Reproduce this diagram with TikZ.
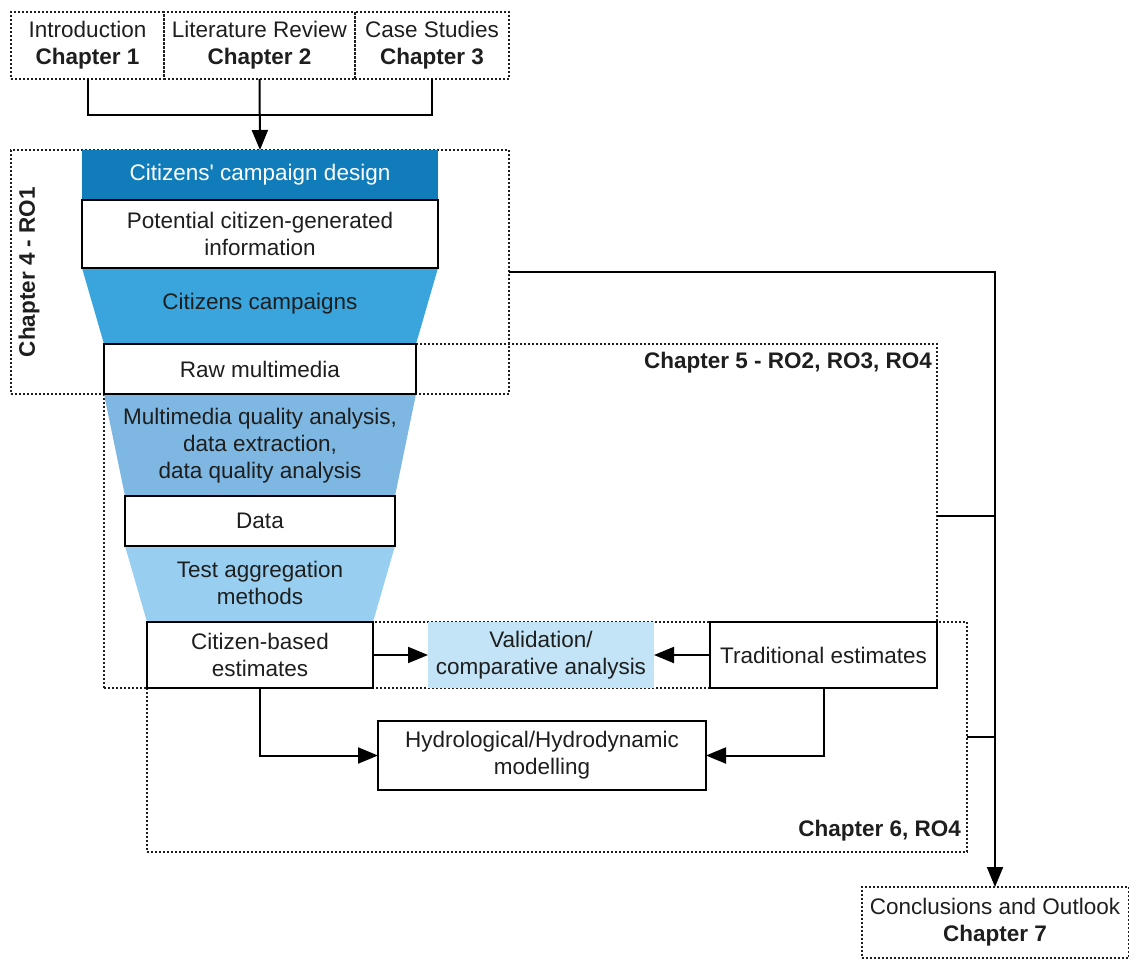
\documentclass[tikz,border=0pt]{standalone}
\usepackage{fontspec}
\setmainfont{Liberation Sans}
\usetikzlibrary{arrows.meta}

\definecolor{designblue}{HTML}{107CBA}
\definecolor{campblue}{HTML}{3AA5DD}
\definecolor{mediablue}{HTML}{7DB7E2}
\definecolor{aggblue}{HTML}{98CFF0}
\definecolor{validblue}{HTML}{C2E4F6}
\definecolor{ink}{HTML}{1E1E1E}

\begin{document}
\begin{tikzpicture}[x=1pt, y=-1pt,
  font=\fontsize{22.5}{27}\selectfont, text=ink,
  dotframe/.style={draw=ink, line width=2pt, dash pattern=on 2pt off 2pt,
    inner sep=0pt, outer sep=0pt},
  stagebox/.style={draw=black, line width=2.5pt, fill=white, align=center,
    inner sep=0pt, outer sep=0pt},
  band/.style={align=center, inner sep=0pt, outer sep=0pt},
  label/.style={font=\fontsize{22.5}{27}\selectfont\bfseries, inner sep=0pt},
  link/.style={draw=black, line width=2pt},
  flow/.style={link, -{Triangle[length=20pt,width=16pt]}},
]
\useasboundingbox (0,0) rectangle (1129,960);

% chapter frames (dotted)
\node[dotframe, minimum width=498pt, minimum height=244pt] (ch4frame) at (260,272) {};
\node[dotframe, minimum width=833pt, minimum height=344pt] (ch5frame) at (520.5,516) {};
\node[dotframe, minimum width=820pt, minimum height=230pt] (ch6frame) at (557,737) {};

% chapters 1-3
\node[dotframe, align=center, minimum width=153pt, minimum height=67pt] (ch1) at (87.5,45.5)
  {Introduction\\\textbf{Chapter 1}};
\node[dotframe, align=center, minimum width=191pt, minimum height=67pt] (ch2) at (259.5,45.5)
  {Literature Review\\\textbf{Chapter 2}};
\node[dotframe, align=center, minimum width=154pt, minimum height=67pt] (ch3) at (432,45.5)
  {Case Studies\\\textbf{Chapter 3}};

% funnel bands
\fill[campblue]  (82,268) -- (438,268) -- (416,344) -- (104,344) -- cycle;
\fill[mediablue] (104,394) -- (416,394) -- (395,496) -- (125,496) -- cycle;
\fill[aggblue]   (125,546) -- (395,546) -- (373,622) -- (147,622) -- cycle;

\node[band, fill=designblue, text=white, minimum width=356pt, minimum height=50pt]
  (design) at (260,175) {Citizens\textquotesingle\ campaign design};
\node[stagebox, minimum width=356pt, minimum height=68pt] (potential) at (260,234)
  {Potential citizen-generated\\information};
\node[band] (campaigns) at (260,304) {Citizens campaigns};
\node[stagebox, minimum width=312pt, minimum height=50pt] (raw) at (260,369) {Raw multimedia};
\node[band] (analysis) at (260,446)
  {Multimedia quality analysis,\\data extraction,\\data quality analysis};
\node[stagebox, minimum width=270pt, minimum height=50pt] (data) at (260,521) {Data};
\node[band] (aggregation) at (260,583) {Test aggregation\\methods};
\node[stagebox, minimum width=226pt, minimum height=66pt] (citizen) at (260,655)
  {Citizen-based\\estimates};

% comparison and modelling
\node[band, fill=validblue, minimum width=226pt, minimum height=66pt] (validation) at (541,655)
  {Validation/\\comparative analysis};
\node[stagebox, minimum width=227pt, minimum height=66pt] (traditional) at (823.5,655)
  {Traditional estimates};
\node[stagebox, minimum width=328pt, minimum height=69pt] (hydro) at (542,755.5)
  {Hydrological/Hydrodynamic\\modelling};

% chapter 7
\node[dotframe, align=center, minimum width=267pt, minimum height=71pt] (ch7) at (995,922.5)
  {Conclusions and Outlook\\\textbf{Chapter 7}};

% frame labels
\node[label, rotate=90] (ch4label) at (29,272) {Chapter 4 - RO1};
\node[label, anchor=east] (ch5label) at (932,363) {Chapter 5 - RO2, RO3, RO4};
\node[label, anchor=east] (ch6label) at (961,831) {Chapter 6, RO4};

% connectors
\coordinate (merge) at (259.5,115);
\draw[link] (ch1.south) |- (merge) -| (ch3.south);
\draw[flow] (ch2.south) -- (design.north);

\draw[flow] (citizen.east) -- (validation.west);
\draw[flow] (traditional.west) -- (validation.east);
\draw[flow] (citizen.south) |- (hydro.west);
\draw[flow] (traditional.south) |- (hydro.east);

\draw[flow] (ch4frame.east) -| (ch7.north);
\draw[link] (ch5frame.east) -- (ch5frame.east -| ch7.north);
\draw[link] (ch6frame.east) -- (ch6frame.east -| ch7.north);
\end{tikzpicture}
\end{document}
